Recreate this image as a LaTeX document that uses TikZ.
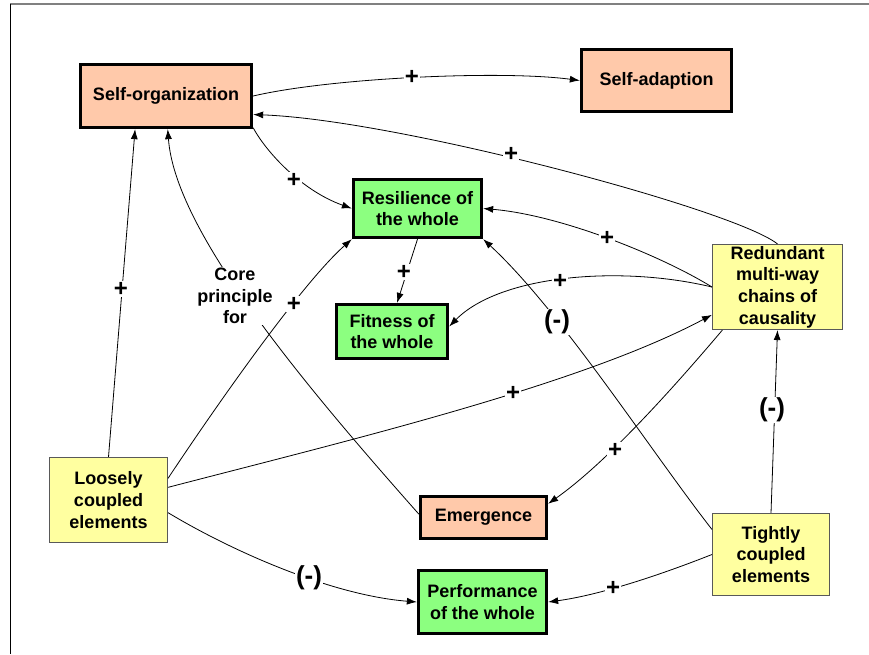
\documentclass[tikz,border=0pt]{standalone}
\usepackage{fontspec}
\setmainfont{Liberation Sans}
\usetikzlibrary{arrows.meta}
\definecolor{peach}{RGB}{255,201,170}
\definecolor{leaf}{RGB}{140,255,128}
\definecolor{pale}{RGB}{255,255,160}
\begin{document}
\begin{tikzpicture}[x=1pt,y=-1pt,
  box/.style={draw, align=center, inner sep=0pt,
    font=\fontsize{18}{21.7}\selectfont\bfseries},
  core/.style={box, line width=3.3pt, draw=black},
  peachbox/.style={core, fill=peach},
  greenbox/.style={core, fill=leaf},
  yellowbox/.style={box, line width=1.1pt, draw=black!65, fill=pale},
  link/.style={line width=0.8pt, -{Latex[length=10pt,width=7pt]}},
  sign/.style={fill=white, inner sep=1pt, font=\fontsize{24}{24}\selectfont\bfseries},
  neg/.style={fill=white, inner sep=1pt, font=\fontsize{26}{26}\selectfont\bfseries},
  tag/.style={fill=white, inner sep=1pt, align=center,
    font=\fontsize{18}{21.7}\selectfont\bfseries}]

\useasboundingbox (0,0) rectangle (869,654);

% page frame
\draw[gray, line width=2pt] (10,4) -- (869,4);
\draw[line width=1pt] (10,4) -- (10,654);

% concepts
\node[peachbox, minimum width=171pt, minimum height=63pt] (so)  at (166,96)      {Self-organization};
\node[peachbox, minimum width=150pt, minimum height=62pt] (sa)  at (656.5,80.5)  {Self-adaption};
\node[greenbox, minimum width=128pt, minimum height=58pt] (res) at (417.5,208.5) {Resilience of\\the whole};
\node[greenbox, minimum width=111pt, minimum height=54pt] (fit) at (392,331.5)   {Fitness of\\the whole};
\node[peachbox, minimum width=126pt, minimum height=42pt] (emg) at (483.5,517.5) {Emergence};
\node[greenbox, minimum width=128pt, minimum height=63pt] (per) at (482.5,602)   {Performance\\of the whole};
\node[yellowbox, minimum width=130pt, minimum height=85pt] (red) at (777.5,287)  {Redundant\\multi-way\\chains of\\causality};
\node[yellowbox, minimum width=118pt, minimum height=85pt] (loo) at (108.5,500)  {Loosely\\coupled\\elements};
\node[yellowbox, minimum width=117pt, minimum height=82pt] (tig) at (771,554.5)  {Tightly\\coupled\\elements};

% causal links
\draw[link] (so.east) .. controls (330,78) and (500,70) .. (sa.west);
\draw[link] (red.north) .. controls (735,210) and (400,120) .. (so.-12);
\draw[link] (so.-20) .. controls (265,150) and (300,190) .. (res.west);
\draw[link] (red.west) .. controls (660,255) and (560,215) .. (res.east);
\draw[link] (red.west) .. controls (620,265) and (500,275) .. (fit.5);
\draw[link] (res.south) -- (fit.80);
\draw[link] (loo.north) -- (so.-133);
\draw[link] (emg.177) .. controls (300,380) and (175,230) .. (so.-87);
\draw[link] (loo.20) .. controls (210,415) and (300,285) .. (res.south west);
\draw[link] (loo.12) .. controls (350,440) and (580,385) .. (red.-157);
\draw[link] (loo.-12) .. controls (230,550) and (330,595) .. (per.west);
\draw[link] (tig.157) .. controls (650,450) and (560,310) .. (res.south east);
\draw[link] (tig.north) -- (red.south);
\draw[link] (red.-142) .. controls (680,380) and (610,460) .. (emg.12);
\draw[link] (tig.west) .. controls (660,575) and (600,595) .. (per.east);

% link polarities
\node[sign] (l1)  at (412,77)  {+};
\node[sign] (l2)  at (511,154) {+};
\node[sign] (l3)  at (294,180) {+};
\node[sign] (l4)  at (607,238) {+};
\node[sign] (l5)  at (560,281) {+};
\node[sign] (l6)  at (404,272) {+};
\node[sign] (l7)  at (121,289) {+};
\node[tag]  (l8)  at (235,296) {Core\\principle\\for};
\node[sign] (l9)  at (294,304) {+};
\node[sign] (l10) at (513,393) {+};
\node[neg]  (l11) at (309,578) {(-)};
\node[neg]  (l12) at (557,322) {(-)};
\node[neg]  (l13) at (772,410) {(-)};
\node[sign] (l14) at (615,450) {+};
\node[sign] (l15) at (613,588) {+};
\end{tikzpicture}
\end{document}
